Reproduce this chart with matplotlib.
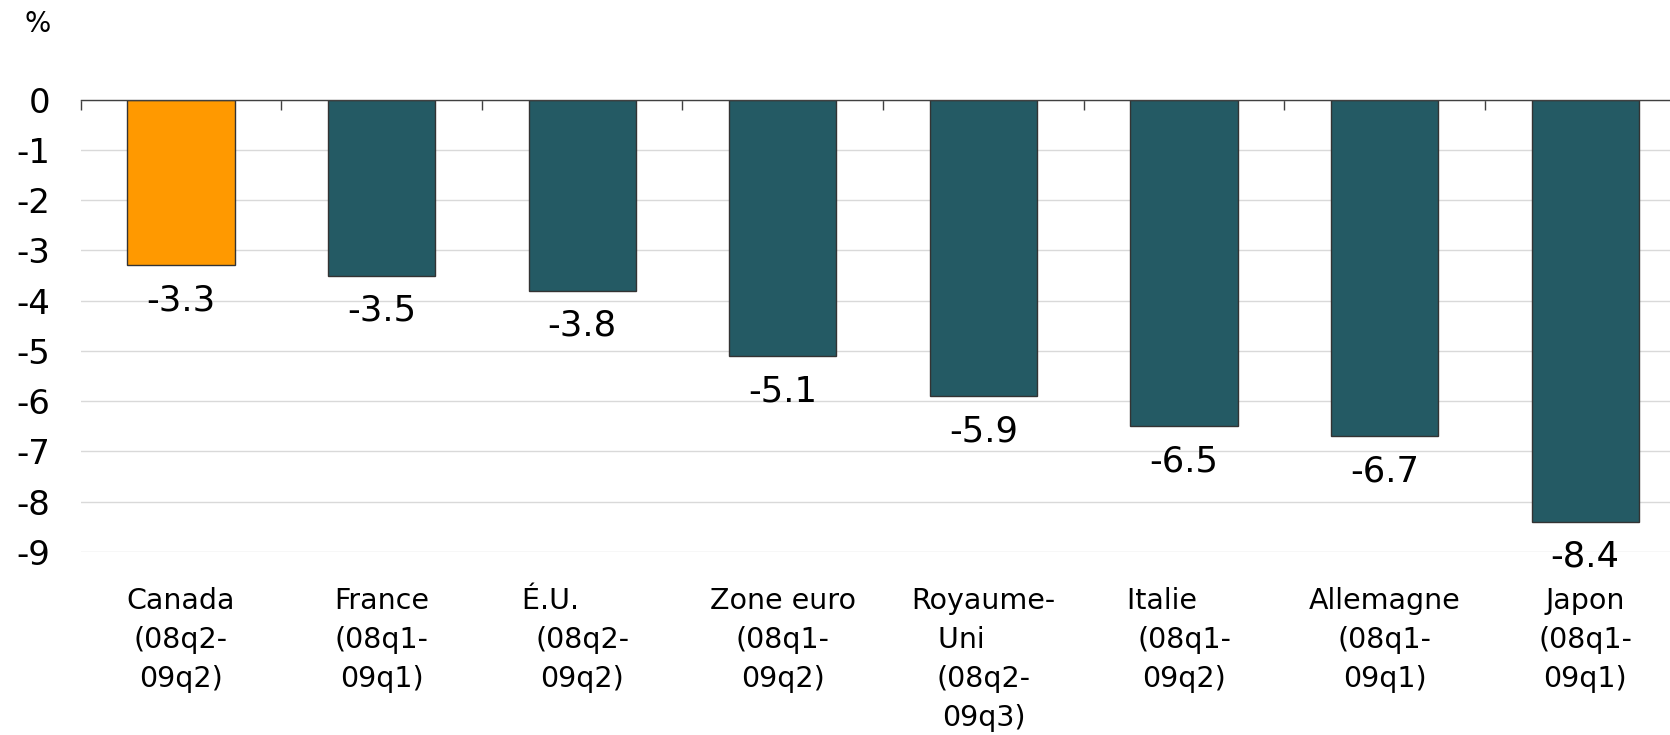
import matplotlib
matplotlib.use("Agg")
import matplotlib.pyplot as plt
import numpy as np

plt.rcParams['font.family'] = ['DejaVu Sans']
plt.rcParams['axes.unicode_minus'] = False

categories = ["Canada\n(08q2-\n09q2)",
              "France\n(08q1-\n09q1)",
              "É.U.       \n(08q2-\n09q2)",
              "Zone euro\n(08q1-\n09q2)",
              "Royaume-\nUni     \n(08q2-\n09q3)",
              "Italie     \n(08q1-\n09q2)",
              "Allemagne\n(08q1-\n09q1)",
              "Japon\n(08q1-\n09q1)"]
values = [-3.3, -3.5, -3.8, -5.1, -5.9, -6.5, -6.7, -8.4]
value_labels = ["-3.3", "-3.5", "-3.8", "-5.1", "-5.9", "-6.5", "-6.7", "-8.4"]
yticks = [0, -1, -2, -3, -4, -5, -6, -7, -8, -9]
ytick_labels = ["0", "-1", "-2", "-3", "-4", "-5", "-6", "-7", "-8", "-9"]

colors = ["#FF9900"] + ["#245A64"] * 7

fig = plt.figure(figsize=(16.7, 7.35), dpi=100)
ax = fig.add_axes([0.0483, 0.249, 0.961, 0.6155])

x = np.arange(len(values))
bars = ax.bar(x, values, width=0.535, color=colors, edgecolor="#333333", linewidth=1.0, zorder=3)

ax.set_xlim(-0.5, len(values) - 0.5)
ax.set_ylim(-9, 0)

ax.set_yticks(yticks)
ax.set_yticklabels(ytick_labels, fontsize=24.5)
ax.tick_params(axis='y', length=0, pad=22)
ax.yaxis.grid(True, color="#d9d9d9", linewidth=1.0, zorder=0)

ax.set_xticks(x)
ax.set_xticklabels(categories, fontsize=20.5, linespacing=1.5)
ax.tick_params(axis='x', which='major', length=0, pad=25)
ax.set_xticks(np.arange(len(values) + 1) - 0.5, minor=True)
ax.tick_params(axis='x', which='minor', bottom=False, top=True, direction='in',
               length=7, width=1.0, color="#404040")

for s in ['left', 'right', 'bottom']:
    ax.spines[s].set_visible(False)
ax.spines['top'].set_color("#404040")
ax.spines['top'].set_linewidth(1.0)
ax.spines['top'].set_zorder(4)

for xi, v, lab in zip(x, values, value_labels):
    ax.annotate(lab, (xi, v), xytext=(0, -13), textcoords='offset points',
                ha='center', va='top', fontsize=25.5, color="#000000")

fig.text(38 / 1670, 1 - 24 / 735, "%", ha='center', va='center', fontsize=20)

fig.savefig("out.png", dpi=100)
